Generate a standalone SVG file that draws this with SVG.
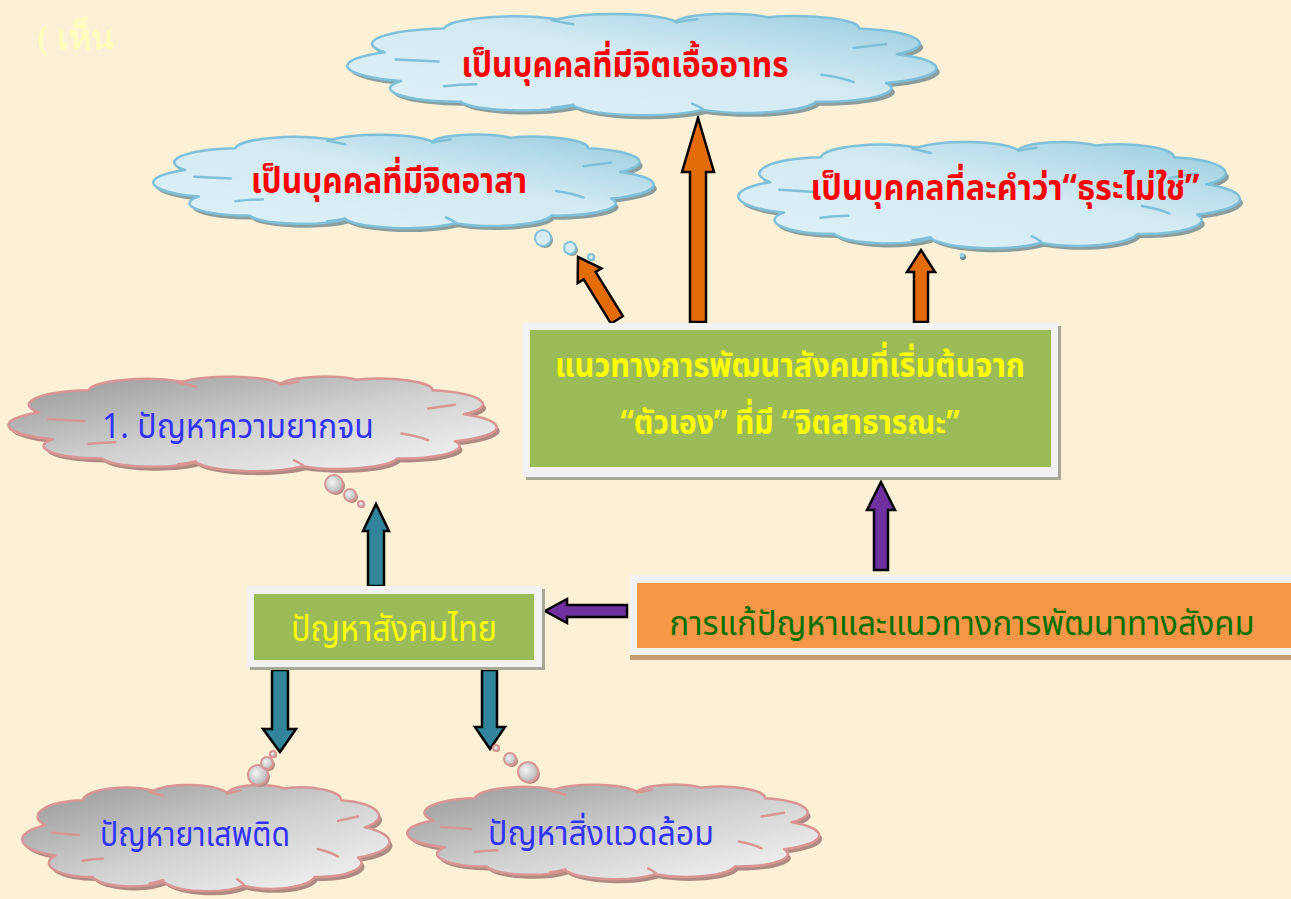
<svg xmlns="http://www.w3.org/2000/svg" xmlns:xlink="http://www.w3.org/1999/xlink" width="1291" height="899" viewBox="0 0 1291 899">
<style>
.cl{vector-effect:non-scaling-stroke;stroke-width:2.5;stroke-linejoin:round}
.ci{vector-effect:non-scaling-stroke;stroke-width:2.5;fill:none;stroke-linecap:round}
.blue{fill:url(#gBlue);stroke:#7fc0d8}
.grey{fill:url(#gGrey);stroke:#d99594}
.shB{fill:#8b9e9e;stroke:none}
.shG{fill:#b08a82;stroke:none}
.ib{stroke:#7fc0d8}
.ig{stroke:#d99594}
.t{font-family:"Noto Sans Thai","Noto Sans","Liberation Sans",sans-serif;text-anchor:middle}
.red{fill:#ff0000;font-weight:bold;font-size:35px}
.bl{fill:#3333ff;font-size:34px}
.yl{fill:#ffff00;font-weight:bold;font-size:34px}
.gr{fill:#007000;font-size:33px}
.arr{stroke:#000;stroke-width:2.5;stroke-linejoin:miter}
.or{fill:#e36c09}.pu{fill:#7030a0}.te{fill:#31849b}
.frame{fill:#f2f2f2}
.bub{stroke-width:2}
</style>
<defs>
<linearGradient id="gBlue" x1="0" y1="1" x2="1" y2="0">
<stop offset="0" stop-color="#dff1f8"/><stop offset="0.55" stop-color="#d2eaf3"/><stop offset="1" stop-color="#95cbdf"/>
</linearGradient>
<linearGradient id="gGrey" x1="0" y1="0" x2="1" y2="1">
<stop offset="0" stop-color="#959595"/><stop offset="0.5" stop-color="#cfcfcf"/><stop offset="1" stop-color="#f8f8f8"/>
</linearGradient>
<radialGradient id="gBubG" cx="0.4" cy="0.4" r="0.6"><stop offset="0" stop-color="#f4f4f4"/><stop offset="1" stop-color="#b8b8b8"/></radialGradient>
<path id="cloud" class="cl" d="M3 40 A15 15 0 0 1 14 17 A13 13 0 0 1 35 8 A13 13 0 0 1 57 10 A10 10 0 0 1 74 6 A12 12 0 0 1 91 17 A15 15 0 0 1 98 42 A16 16 0 0 1 96 70 A13 13 0 0 1 83 88 A13 13 0 0 1 62 96 A14 14 0 0 1 38 92 A12 12 0 0 1 17 88 A13 13 0 0 1 6 68 A16 16 0 0 1 3 40 Z"/>
<path id="cin" class="ci" d="M5 47 Q9 48 13 49 M34 9 Q36 11 38 13 M57 11 Q59 9 61 8 M90 36 Q93 34 96 32 M84 62 Q88 65 90 69 M62 95 Q61 92 60 90 M38 91 Q36 93 34 94 M14 73 Q17 71 20 71"/>
</defs>
<rect width="1291" height="899" fill="#fcf0d6"/>
<text x="37" y="49" font-family="Liberation Serif,serif" font-weight="bold" font-size="34" fill="#ffffbe">( เห็น</text>

<g id="connectors">
<polygon class="arr or" points="690,322 690,172 682,172 698,118 714,172 706,172 706,322"/>
<polygon class="arr or" points="622.9,316.2 595.6,272 601.5,268.3 578,257 577.7,283.1 583.7,279.4 611,323.6"/>
<polygon class="arr or" points="914,322 914,272 907,272 921,250 935,272 928,272 928,322"/>
<polygon class="arr pu" points="874,570 874,510 867,510 881,482 895,510 888,510 888,570"/>
<polygon class="arr pu" points="627,605 567,605 567,599 545,611 567,623 567,617 627,617"/>
<polygon class="arr te" points="368,586 368,531 363,531 376,504 389,531 384,531 384,586"/>
<polygon class="arr te" points="272,670 272,729 263,729 280,752 296,729 288,729 288,670"/>
<polygon class="arr te" points="482,670 482,727 475,727 490,749 505,727 497,727 497,670"/>
</g>

<g id="cloud-ueaarthon">
<use href="#cloud" class="shB" transform="translate(372,15) scale(5.39,1.03)"/>
<use href="#cloud" class="blue" transform="translate(368.6,11) scale(5.39,1.03)"/>
<use href="#cin" class="ib" transform="translate(368.6,11) scale(5.39,1.03)"/>
<text class="t red" x="625" y="77" textLength="327" lengthAdjust="spacingAndGlyphs">เป็นบุคคลที่มีจิตเอื้ออาทร</text>
</g>

<g id="cloud-asa">
<use href="#cloud" class="shB" transform="translate(174.3,136) scale(4.58,0.95)"/>
<use href="#cloud" class="blue" transform="translate(171.3,132) scale(4.58,0.95)"/>
<use href="#cin" class="ib" transform="translate(171.3,132) scale(4.58,0.95)"/>
<circle cx="545" cy="240" r="8" fill="#8b9e9e"/><circle class="bub" cx="543" cy="238" r="8" fill="#d6ecf4" stroke="#7fc0d8"/>
<circle cx="572" cy="250" r="6" fill="#8b9e9e"/><circle class="bub" cx="570" cy="248" r="6" fill="#d6ecf4" stroke="#7fc0d8"/>
<circle cx="592" cy="258" r="3" fill="#8b9e9e"/><circle class="bub" cx="591" cy="257" r="3" fill="#d6ecf4" stroke="#7fc0d8"/>
<text class="t red" x="389" y="193" textLength="276" lengthAdjust="spacingAndGlyphs">เป็นบุคคลที่มีจิตอาสา</text>
</g>

<g id="cloud-thura">
<use href="#cloud" class="shB" transform="translate(759.4,143) scale(4.59,1.08)"/>
<use href="#cloud" class="blue" transform="translate(756.4,139) scale(4.59,1.08)"/>
<use href="#cin" class="ib" transform="translate(756.4,139) scale(4.59,1.08)"/>
<circle cx="963" cy="257" r="3" fill="#6a8a94"/><circle cx="962" cy="255" r="2.5" fill="#9fd0e0"/>
<text class="t red" x="1005" y="200" textLength="389" lengthAdjust="spacingAndGlyphs">เป็นบุคคลที่ละคำว่า“ธุระไม่ใช่”</text>
</g>

<g id="box-main">
<rect x="526" y="326" width="535" height="154" fill="#a8a898"/>
<rect class="frame" x="523" y="323" width="535" height="154"/>
<rect x="530" y="330" width="521" height="137" fill="#9bbb59"/>
<text class="t yl" x="790" y="377" textLength="470" lengthAdjust="spacingAndGlyphs">แนวทางการพัฒนาสังคมที่เริ่มต้นจาก</text>
<text class="t yl" x="790" y="434" textLength="339" lengthAdjust="spacingAndGlyphs">“ตัวเอง” ที่มี “จิตสาธารณะ”</text>
</g>

<g id="cloud-poverty">
<use href="#cloud" class="shG" transform="translate(28.9,378) scale(4.47,0.96)"/>
<use href="#cloud" class="grey" transform="translate(25.9,374) scale(4.47,0.96)"/>
<use href="#cin" class="ig" transform="translate(25.9,374) scale(4.47,0.96)"/>
<circle cx="336" cy="486" r="9" fill="#b08a82"/><circle class="bub" cx="334" cy="484" r="9" fill="url(#gBubG)" stroke="#d99594"/>
<circle cx="352" cy="497" r="6" fill="#b08a82"/><circle class="bub" cx="350" cy="495" r="6" fill="url(#gBubG)" stroke="#d99594"/>
<circle cx="362" cy="505" r="3" fill="#b08a82"/><circle class="bub" cx="361" cy="504" r="3" fill="url(#gBubG)" stroke="#d99594"/>
<text class="t bl" x="238" y="438" textLength="272" lengthAdjust="spacingAndGlyphs">1. ปัญหาความยากจน</text>
</g>

<g id="box-thai">
<rect x="250" y="589" width="295" height="81" fill="#a8a898"/>
<rect class="frame" x="247" y="586" width="295" height="81"/>
<rect x="254" y="594" width="280" height="66" fill="#9bbb59"/>
<text class="t yl" x="394" y="641" style="font-weight:normal;font-size:35px" textLength="206" lengthAdjust="spacingAndGlyphs">ปัญหาสังคมไทย</text>
</g>

<g id="box-solution">
<rect x="630" y="652" width="661" height="8" fill="#c8a078"/>
<rect class="frame" x="630" y="575" width="661" height="80"/>
<rect x="637" y="583" width="654" height="65" fill="#f79646"/>
<text class="t gr" x="962" y="635" textLength="585" lengthAdjust="spacingAndGlyphs">การแก้ปัญหาและแนวทางการพัฒนาทางสังคม</text>
</g>

<g id="cloud-drugs">
<use href="#cloud" class="shG" transform="translate(38.5,786) scale(3.36,1.08)"/>
<use href="#cloud" class="grey" transform="translate(35.5,782) scale(3.36,1.08)"/>
<use href="#cin" class="ig" transform="translate(35.5,782) scale(3.36,1.08)"/>
<circle cx="260" cy="777" r="10" fill="#b08a82"/><circle class="bub" cx="258" cy="775" r="10" fill="url(#gBubG)" stroke="#d99594"/>
<circle cx="269" cy="765" r="6" fill="#b08a82"/><circle class="bub" cx="267" cy="763" r="6" fill="url(#gBubG)" stroke="#d99594"/>
<circle cx="274" cy="755" r="3" fill="#b08a82"/><circle class="bub" cx="273" cy="754" r="3" fill="url(#gBubG)" stroke="#d99594"/>
<text class="t bl" x="195" y="846" textLength="190" lengthAdjust="spacingAndGlyphs">ปัญหายาเสพติด</text>
</g>

<g id="cloud-env">
<use href="#cloud" class="shG" transform="translate(425.1,786) scale(3.77,0.96)"/>
<use href="#cloud" class="grey" transform="translate(422.1,782) scale(3.77,0.96)"/>
<use href="#cin" class="ig" transform="translate(422.1,782) scale(3.77,0.96)"/>
<circle cx="497" cy="749" r="3" fill="#b08a82"/><circle class="bub" cx="496" cy="748" r="3" fill="url(#gBubG)" stroke="#d99594"/>
<circle cx="512" cy="761" r="6" fill="#b08a82"/><circle class="bub" cx="510" cy="759" r="6" fill="url(#gBubG)" stroke="#d99594"/>
<circle cx="530" cy="774" r="10" fill="#b08a82"/><circle class="bub" cx="528" cy="772" r="10" fill="url(#gBubG)" stroke="#d99594"/>
<text class="t bl" x="601" y="845" textLength="226" lengthAdjust="spacingAndGlyphs">ปัญหาสิ่งแวดล้อม</text>
</g>
</svg>
